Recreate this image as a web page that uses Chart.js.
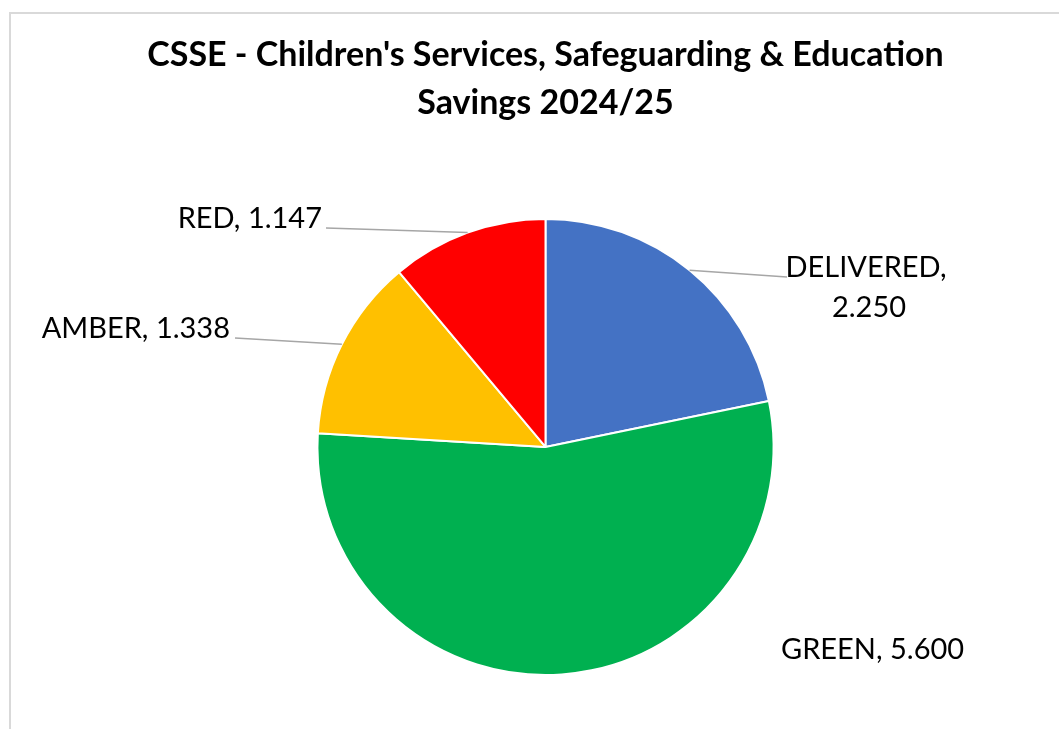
<!DOCTYPE html>
<html>
<head>
<meta charset="utf-8">
<script src="https://cdn.jsdelivr.net/npm/chart.js@4"></script>
<style>
  html, body { margin: 0; padding: 0; background: #ffffff; }
  #wrap { position: relative; width: 1059px; height: 729px; overflow: hidden; }
  #frame {
    position: absolute; left: 9px; top: 12px; width: 1060px; height: 730px;
    border-top: 2px solid #d9d9d9; border-left: 2px solid #d9d9d9;
  }
  canvas { position: absolute; left: 0; top: 0; }
</style>
</head>
<body>
<div id="wrap">
  <div id="frame"></div>
  <!-- canvas a bit wider than the window so the pie centre lands at x=545 -->
  <canvas id="pieChart" width="1091" height="729"></canvas>
</div>
<script>
// savings by RAG status, £m
const categories = ["DELIVERED", "GREEN", "AMBER", "RED"];
const savings = [2.250, 5.600, 1.338, 1.147];
const sliceColours = ["#4472C4", "#00B050", "#FFC000", "#FF0000"];

const titleLines = ["CSSE - Children's Services, Safeguarding & Education", "Savings 2024/25"];
const FONT = "Lato, 'Open Sans', sans-serif";

// where each data label sits (canvas px)
// line: leader line from slice edge to [x, y]; text: anchor [x, baseline]
const labelLayout = [
  { line: [787, 277], text: [866, 277], align: "center", split: true },
  { line: null, text: [781, 659], align: "left" },
  { line: [235, 338], text: [230, 338], align: "right" },
  { line: [326, 228], text: [322, 228], align: "right" }
];

const dataLabels = {
  id: "dataLabels",
  afterDatasetsDraw(chart) {
    const ctx = chart.ctx;
    const meta = chart.getDatasetMeta(0);
    ctx.save();
    ctx.font = "29px " + FONT;
    ctx.fillStyle = "#000000";
    ctx.textBaseline = "alphabetic";
    meta.data.forEach((arc, i) => {
      const p = arc.getProps(["x", "y", "startAngle", "endAngle", "outerRadius"], true);
      const mid = (p.startAngle + p.endAngle) / 2;
      const ex = p.x + Math.cos(mid) * p.outerRadius;
      const ey = p.y + Math.sin(mid) * p.outerRadius;
      const lay = labelLayout[i];
      if (lay.line) {
        ctx.strokeStyle = "#a6a6a6";
        ctx.lineWidth = 1.5;
        ctx.beginPath();
        ctx.moveTo(ex, ey);
        ctx.lineTo(lay.line[0], lay.line[1]);
        ctx.stroke();
      }
      const value = savings[i].toFixed(3);
      ctx.textAlign = lay.align;
      if (lay.split) {
        ctx.fillText(categories[i] + ",", lay.text[0], lay.text[1]);
        ctx.fillText(value, lay.text[0] + 3, lay.text[1] + 40);
      } else {
        ctx.fillText(categories[i] + ", " + value, lay.text[0], lay.text[1]);
      }
    });
    ctx.restore();
  }
};

new Chart(document.getElementById("pieChart"), {
  type: "pie",
  data: {
    labels: categories,
    datasets: [{
      data: savings,
      backgroundColor: sliceColours,
      borderColor: "#ffffff",
      borderWidth: 2
    }]
  },
  options: {
    responsive: false,
    animation: false,
    layout: { padding: { left: 0, right: 0, top: 0, bottom: 53 } },
    plugins: {
      legend: { display: false },
      tooltip: { enabled: false },
      title: {
        display: true,
        text: titleLines,
        color: "#000000",
        font: { family: FONT, size: 34, weight: "bold", lineHeight: 1.41 },
        padding: { top: 31, bottom: 91 }
      }
    }
  },
  plugins: [dataLabels]
});
</script>
</body>
</html>
